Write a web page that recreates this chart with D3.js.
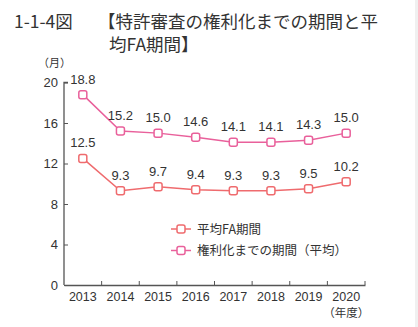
<!DOCTYPE html>
<meta charset="utf-8">
<style>
    body { margin: 0; background: #fff; }
    svg text { font-family: "Liberation Sans Narrow", "Liberation Sans", sans-serif; fill: #333; }
    .jp { font-family: "Noto Sans CJK JP", sans-serif; }
</style>
<body>
<script src="https://cdnjs.cloudflare.com/ajax/libs/d3/7.8.5/d3.min.js"></script>
<script>
var years = ["2013", "2014", "2015", "2016", "2017", "2018", "2019", "2020"];
var faPeriod = [12.5, 9.3, 9.7, 9.4, 9.3, 9.3, 9.5, 10.2];
var rightsPeriod = [18.8, 15.2, 15.0, 14.6, 14.1, 14.1, 14.3, 15.0];
var yTicks = [0, 4, 8, 12, 16, 20];
var seriesNames = ["平均FA期間", "権利化までの期間（平均）"];
var seriesColors = ["#ef6b6e", "#e9609b"];

var width = 418, height = 327;
var svg = d3.select("body").append("svg")
    .attr("width", width)
    .attr("height", height);

svg.append("rect").attr("x", 415).attr("y", 0).attr("width", 3).attr("height", height).attr("fill", "#f0f0f0");

// title
var title = svg.append("g").style("font-size", "17.5px");
title.append("text").attr("class", "jp").attr("x", 14).attr("y", 28).attr("fill", "#2a2a2a").text("1-1-4図");
title.append("text").attr("class", "jp").attr("x", 98).attr("y", 28).attr("fill", "#2a2a2a").text("【特許審査の権利化までの期間と平");
title.append("text").attr("class", "jp").attr("x", 109).attr("y", 51).attr("fill", "#2a2a2a").text("均FA期間】");

var x = d3.scaleBand().domain(years).range([64, 365]);
var y = d3.scaleLinear().domain([0, 20]).range([285, 82.5]);

svg.append("text").attr("class", "jp").attr("x", 38).attr("y", 67)
    .style("font-size", "11px").text("（月）");

// y axis
var yAxis = svg.append("g").attr("transform", "translate(64,0)")
    .call(d3.axisRight(y).tickValues(yTicks).tickSize(4).tickFormat(d3.format("d")));
yAxis.select(".domain").attr("stroke", "#555").attr("stroke-width", 1.3).attr("d", "M4," + y(20) + "H0V" + y(0));
yAxis.selectAll(".tick line").attr("stroke", "#555");
yAxis.selectAll(".tick text").attr("x", -6).attr("text-anchor", "end")
    .style("font-size", "13px").attr("fill", "#333");

// x axis
var xAxis = svg.append("g").attr("transform", "translate(0,285)")
    .call(d3.axisBottom(x).tickSize(0));
xAxis.select(".domain").attr("stroke", "#555").attr("stroke-width", 1.3);
xAxis.selectAll(".tick text").attr("y", 7).style("font-size", "12.5px").attr("fill", "#333");
xAxis.selectAll(".sep").data(years.slice(1).concat(["end"])).enter().append("line")
    .attr("x1", function (d, i) { return x(years[i]) + x.bandwidth(); })
    .attr("x2", function (d, i) { return x(years[i]) + x.bandwidth(); })
    .attr("y1", 0).attr("y2", -4).attr("stroke", "#555");
svg.append("text").attr("class", "jp").attr("x", x("2020") + x.bandwidth() / 2).attr("y", 317)
    .attr("text-anchor", "middle").style("font-size", "11.5px").text("（年度）");

var line = d3.line()
    .x(function (d, i) { return x(years[i]) + x.bandwidth() / 2; })
    .y(function (d) { return y(d); });

[faPeriod, rightsPeriod].forEach(function (vals, s) {
    var c = seriesColors[s];
    svg.append("path").datum(vals).attr("d", line)
        .attr("fill", "none").attr("stroke", c).attr("stroke-width", 1.5);
    svg.selectAll(".m" + s).data(vals).enter().append("rect")
        .attr("x", function (d, i) { return x(years[i]) + x.bandwidth() / 2 - 4; })
        .attr("y", function (d) { return y(d) - 4; })
        .attr("width", 8).attr("height", 8).attr("rx", 2)
        .attr("fill", "#fff").attr("stroke", c).attr("stroke-width", 1.5);
    svg.selectAll(".l" + s).data(vals).enter().append("text")
        .attr("x", function (d, i) { return x(years[i]) + x.bandwidth() / 2; })
        .attr("y", function (d) { return y(d) - 11; })
        .attr("text-anchor", "middle").style("font-size", "13px")
        .text(function (d) { return d.toFixed(1); });
});

// legend
seriesNames.forEach(function (name, i) {
    var ly = 229 + i * 21.5;
    var g = svg.append("g");
    g.append("line").attr("x1", 171).attr("x2", 191).attr("y1", ly).attr("y2", ly)
        .attr("stroke", seriesColors[i]).attr("stroke-width", 1.5);
    g.append("rect").attr("x", 177).attr("y", ly - 4).attr("width", 8).attr("height", 8).attr("rx", 2)
        .attr("fill", "#fff").attr("stroke", seriesColors[i]).attr("stroke-width", 1.5);
    g.append("text").attr("class", "jp").attr("x", 197).attr("y", ly + 4.5)
        .style("font-size", "12.5px").text(name);
});
</script>
</body>
